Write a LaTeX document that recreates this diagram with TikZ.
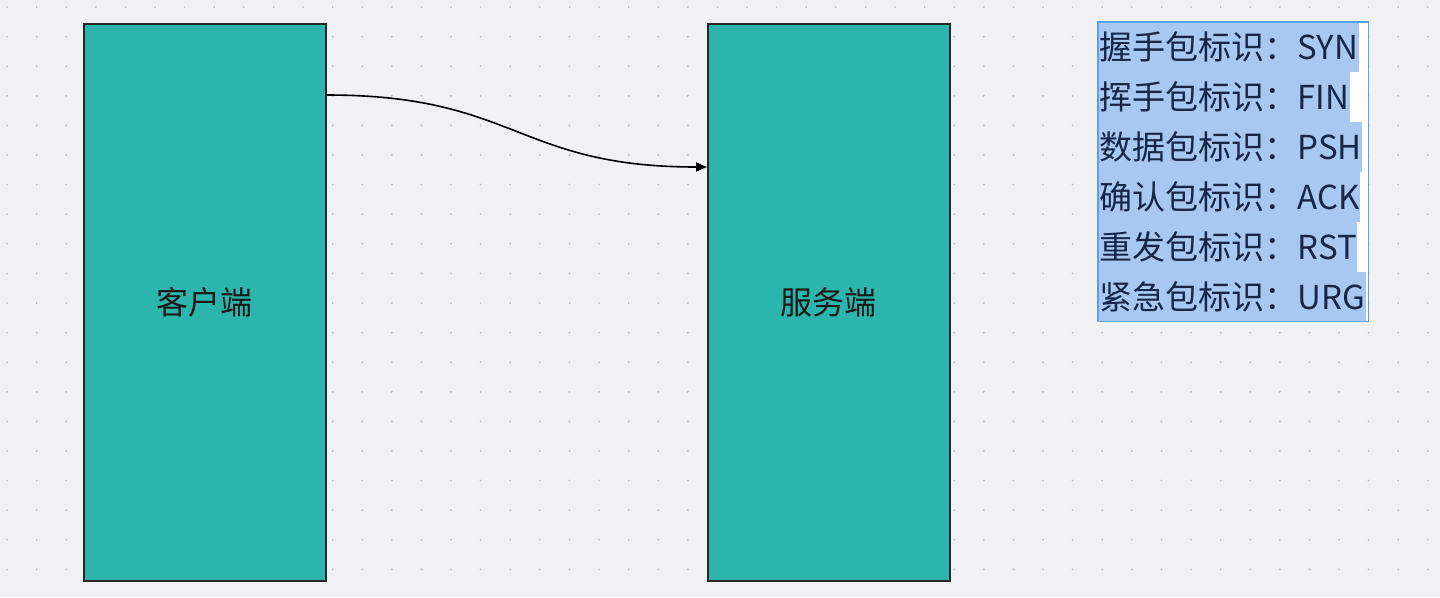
\documentclass[tikz,border=0pt]{standalone}
\usepackage{fontspec}
\setmainfont{Noto Sans CJK SC}
\usetikzlibrary{arrows.meta,calc}
\definecolor{bg}{RGB}{241,241,244}
\definecolor{dotc}{RGB}{192,192,200}
\definecolor{teal}{RGB}{43,181,173}
\definecolor{hl}{RGB}{168,200,242}
\definecolor{selb}{RGB}{90,160,232}
\definecolor{ink}{RGB}{22,38,72}
\tikzset{
  endbox/.style={draw=black!85, line width=1.6pt, fill=teal, minimum width=242, minimum height=557, anchor=north west, inner sep=0pt, font=\fontsize{32}{36}\selectfont, text=black!90},
  flagrow/.style={fill=hl, inner xsep=0.5pt, inner ysep=0pt, minimum height=50, anchor=west, text=ink, font=\fontsize{33}{36}\selectfont},
  conn/.style={line width=1.6pt, black, -{Triangle[length=11pt,width=9pt]}},
}
\begin{document}
\begin{tikzpicture}[x=1pt,y=-1pt]
\useasboundingbox (0,0) rectangle (1440,597);
\fill[bg] (0,0) rectangle (1440,597);
\foreach \i in {0,...,48}{
  \foreach \j in {0,...,20}{
    \fill[dotc] ({7+29.6*\i},{7+29.6*\j}) circle (1.1pt);
  }
}
\node[endbox] (client) at (83,23) {客户端};
\node[endbox] (server) at (707,23) {服务端};
\draw[conn] ($(client.north east)+(0,72)$) .. controls +(190,0) and +(-190,0) .. ($(server.north west)+(0,144)$);
\node[fill=white, minimum width=270, minimum height=299, anchor=north west, inner sep=0pt] (box) at (1098,22) {};
\node[flagrow] (r1) at ($(box.north west)+(1,25)$) {握手包标识：SYN};
\node[flagrow] (r2) at ($(box.north west)+(1,75)$) {挥手包标识：FIN};
\node[flagrow] (r3) at ($(box.north west)+(1,125)$) {数据包标识：PSH};
\node[flagrow] (r4) at ($(box.north west)+(1,175)$) {确认包标识：ACK};
\node[flagrow] (r5) at ($(box.north west)+(1,225)$) {重发包标识：RST};
\node[flagrow] (r6) at ($(box.north west)+(1,275)$) {紧急包标识：URG};
\draw[selb, line width=1.2pt] (box.north west) rectangle (box.south east);
\end{tikzpicture}
\end{document}
